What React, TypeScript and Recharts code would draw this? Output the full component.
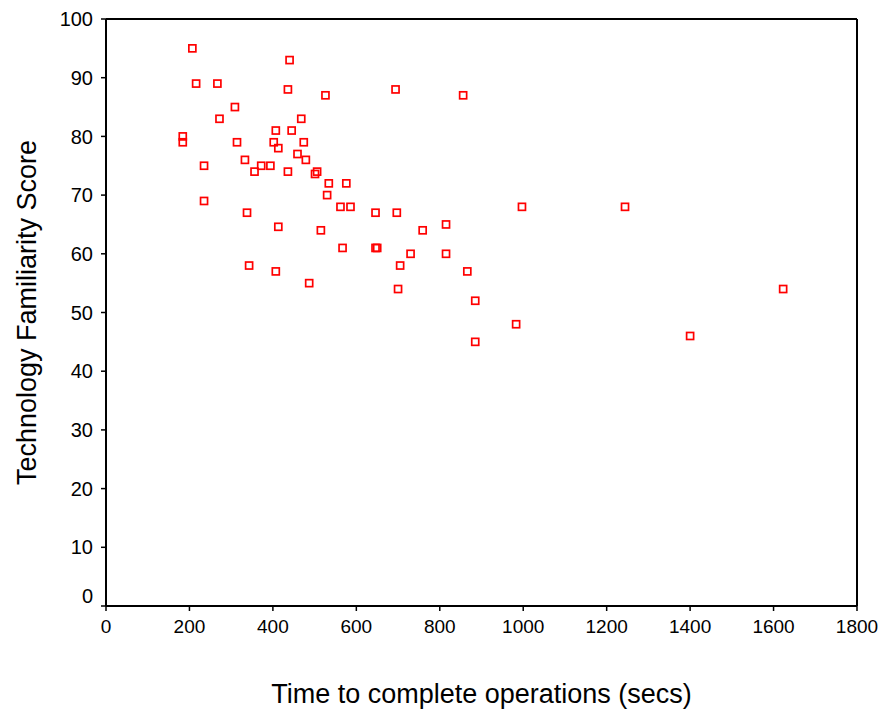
import { ScatterChart, Scatter, XAxis, YAxis, ReferenceLine } from "recharts";

const FONT = '"Liberation Sans", Arial, sans-serif';

// time to complete operations (secs)
const timeSecs = [
  207, 440, 216, 267, 436, 526, 694, 856, 309, 272,
  468, 407, 445, 184, 184, 314, 402, 474, 413, 459,
  333, 479, 235, 372, 394, 356, 436, 501, 506, 534,
  576, 530, 235, 562, 586, 997, 1244, 338, 646, 697,
  413, 515, 759, 815, 567, 646, 650, 730, 815, 343,
  705, 407, 866, 487, 700, 885, 983, 885, 1400, 1623,
];

// technology familiarity score
const familiarity = [
  95, 93, 89, 89, 88, 87, 88, 87, 85, 83,
  83, 81, 81, 80, 79, 79, 79, 79, 78, 77,
  76, 76, 75, 75, 75, 74, 74, 73.6, 74, 72,
  72, 70, 69, 68, 68, 68, 68, 67, 67, 67,
  64.6, 64, 64, 65, 61, 61, 61, 60, 60, 58,
  58, 57, 57, 55, 54, 52, 48, 45, 46, 54,
];

const xTicks = [0, 200, 400, 600, 800, 1000, 1200, 1400, 1600, 1800];
const yTicks = [0, 10, 20, 30, 40, 50, 60, 70, 80, 90, 100];

const data = timeSecs.map((t, i) => ({ x: t, y: familiarity[i] }));

function SquareMarker(props: any) {
  const { cx, cy } = props;
  if (cx == null || cy == null) return null;
  return <rect x={cx - 3.5} y={cy - 3.5} width={7} height={7} fill="none" stroke="#ff0000" strokeWidth={1.7} />;
}

function YTick(props: any) {
  const { x, y, payload } = props;
  // the zero label sits a little above its tick
  const yy = payload.value === 0 ? y - 10 : y;
  return (
    <text x={x} y={yy} dy="0.355em" textAnchor="end" fontSize={20} fontFamily={FONT} fill="#000">
      {payload.value}
    </text>
  );
}

export default function App() {
  return (
    <div style={{ position: "absolute", left: 0, top: 0, background: "#fff" }}>
      <ScatterChart width={885} height={709} margin={{ top: 19, right: 28, bottom: 0, left: 0 }}>
        <XAxis
          type="number"
          dataKey="x"
          domain={[0, 1800]}
          ticks={xTicks}
          height={103}
          tickSize={5}
          tickMargin={9}
          axisLine={{ stroke: "#000", strokeWidth: 2 }}
          tickLine={{ stroke: "#000", strokeWidth: 1.5 }}
          tick={{ fontSize: 19, fontFamily: FONT, fill: "#000" }}
          label={{ value: "Time to complete operations (secs)", position: "insideBottom", offset: 6, fontSize: 27, fontFamily: FONT, fill: "#000" }}
        />
        <YAxis
          type="number"
          dataKey="y"
          domain={[0, 100]}
          ticks={yTicks}
          width={106}
          tickSize={5}
          tickMargin={8}
          axisLine={{ stroke: "#000", strokeWidth: 2 }}
          tickLine={{ stroke: "#000", strokeWidth: 1.5 }}
          tick={<YTick />}
          label={{ value: "Technology Familiarity Score", angle: -90, position: "insideLeft", offset: 26, fontSize: 27, fontFamily: FONT, fill: "#000", style: { textAnchor: "middle" } }}
        />
        <ReferenceLine y={100} stroke="#000" strokeWidth={2} />
        <ReferenceLine x={1800} stroke="#000" strokeWidth={2} />
        <Scatter data={data} shape={<SquareMarker />} isAnimationActive={false} />
      </ScatterChart>
    </div>
  );
}
